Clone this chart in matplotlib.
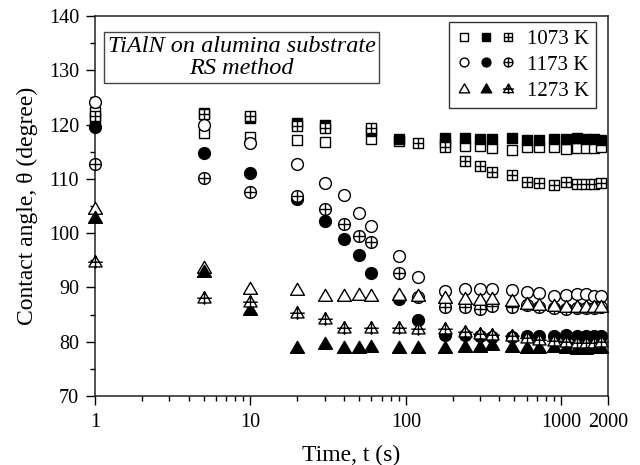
import numpy as np
import matplotlib
matplotlib.use("Agg")
import matplotlib.pyplot as plt
from matplotlib.path import Path
from matplotlib.legend_handler import HandlerTuple

# time points (s)
t_all = [1, 5, 10, 20, 30, 40, 50, 60, 90, 120, 180, 240, 300, 360, 480,
         600, 720, 900, 1080, 1260, 1440, 1620, 1800]
nan = np.nan

# 1073 K
k1073_open = [122.3, 118.5, 117.8, 117.2, 116.7, nan, nan, 117.4, 117.0, nan, 116.6, 116.0,
              116.0, 115.7, 115.4, 115.8, 115.8, 115.8, 115.5, 115.6, 115.7, 115.6, 115.8]
k1073_fill = [121.0, 122.1, 121.2, 120.3, 119.9, nan, nan, 118.8, 117.4, nan, 117.6, 117.5,
              117.3, 117.3, 117.5, 117.2, 117.2, 117.3, 117.3, 117.5, 117.4, 117.4, 117.2]
k1073_cross = [121.6, 122.0, 121.5, 119.7, 119.4, nan, nan, 119.3, nan, 116.6, 115.8, 113.3,
               112.4, 111.3, 110.7, 109.5, 109.2, 108.9, 109.4, 109.1, 109.0, 109.1, 109.2]

# 1173 K
k1173_open = [124.2, 119.9, 116.6, 112.8, 109.2, 107.0, 103.8, 101.3, 95.8, 92.0, 89.4, 89.7,
              89.7, 89.7, 89.5, 89.2, 89.0, 88.5, 88.6, 88.7, 88.7, 88.4, 88.4]
k1173_fill = [119.6, 114.8, 111.0, 106.2, 102.3, 99.0, 96.0, 92.7, 87.9, 84.0, 81.2, 81.3,
              81.0, 80.9, 80.9, 81.0, 81.0, 81.1, 81.2, 81.0, 81.1, 81.0, 81.0]
k1173_cross = [112.8, 110.2, 107.6, 106.8, 104.4, 101.7, 99.5, 98.4, 92.7, 88.3, 86.4, 86.4,
               86.0, 86.5, 86.4, 86.7, 86.4, 86.3, 86.1, 86.2, 86.3, 86.3, 86.4]

# 1273 K
k1273_open = [104.6, 93.7, 89.9, 89.7, 88.6, 88.6, 88.8, 88.6, 88.7, 88.6, 88.2, 88.0,
              87.9, 88.0, 87.6, 87.1, 87.0, 86.8, 86.6, 86.5, 86.5, 86.5, 86.6]
k1273_fill = [103.0, 93.1, 86.0, 79.0, 79.8, 79.0, 79.0, 79.2, 79.0, 79.0, 79.0, 79.2,
              79.3, 79.5, 79.3, 79.0, 79.0, 79.3, 79.0, 78.9, 78.9, 79.0, 79.0]
k1273_cross = [94.8, 88.2, 87.5, 85.5, 84.4, 82.7, nan, 82.7, 82.7, 82.6, 82.6, 82.0,
               81.6, 81.5, 81.2, 80.8, 80.5, 80.3, 80.1, 80.0, 80.0, 80.0, 80.1]

labels = ["1073 K", "1173 K", "1273 K"]

plt.rcParams['font.family'] = ['Liberation Serif', 'DejaVu Serif']


def with_cross(verts, codes, extra):
    v = list(verts)
    c = list(codes)
    for (a, b) in extra:
        v += [a, b]
        c += [Path.MOVETO, Path.LINETO]
    return Path(v, c)


sq = [(-1, -1), (1, -1), (1, 1), (-1, 1), (-1, -1)]
sq_codes = [Path.MOVETO, Path.LINETO, Path.LINETO, Path.LINETO, Path.CLOSEPOLY]
sq_plus = with_cross(sq, sq_codes, [((0, -1), (0, 1)), ((-1, 0), (1, 0))])

circ = Path.unit_circle()
circ_plus = with_cross(circ.vertices, circ.codes, [((0, -1), (0, 1)), ((-1, 0), (1, 0))])

tri = [(0, 0.8), (-0.9, -0.75), (0.9, -0.75), (0, 0.8)]
tri_codes = [Path.MOVETO, Path.LINETO, Path.LINETO, Path.CLOSEPOLY]
tri_path = Path(tri, tri_codes)
tri_plus = with_cross(tri, tri_codes, [((0, 0.8), (0, -1.0)), ((-1.0, -0.1), (1.0, -0.1))])

fig = plt.figure(figsize=(6.4, 4.65), dpi=100)
ax = fig.add_axes([95 / 640, 1 - 396 / 465, 513 / 640, 380 / 465])

mew = 1.0
series = [
    (k1073_open, 's', 7, 'white'), (k1073_fill, 's', 7, 'black'), (k1073_cross, sq_plus, 7, 'white'),
    (k1173_open, 'o', 8.5, 'white'), (k1173_fill, 'o', 8.5, 'black'), (k1173_cross, circ_plus, 8.5, 'white'),
    (k1273_open, tri_path, 10, 'white'), (k1273_fill, tri_path, 10, 'black'), (k1273_cross, tri_plus, 10.5, 'white'),
]
handles = []
for vals, m, ms, fc in series:
    h, = ax.plot(t_all, vals, linestyle='none', marker=m, markersize=ms,
                 markerfacecolor=fc, markeredgecolor='black', markeredgewidth=mew,
                 clip_on=False, zorder=3)
    handles.append(h)

ax.set_xscale('log')
ax.set_xlim(1, 2000)
ax.set_ylim(70, 140)
ax.set_xticks([1, 10, 100, 1000, 2000])
ax.set_xticklabels(['1', '10', '100', '1000', '2000'])
minor_x = [m * 10 ** d for d in range(0, 4) for m in range(2, 10) if m * 10 ** d < 2000]
ax.set_xticks(minor_x, minor=True)
ax.xaxis.set_minor_formatter(plt.NullFormatter())
ax.set_yticks(np.arange(70, 141, 10))
ax.set_yticks(np.arange(75, 140, 10), minor=True)

ax.tick_params(which='major', direction='out', length=6.5, width=1.0, labelsize=14.5)
ax.tick_params(axis='y', which='major', pad=5)
ax.tick_params(axis='x', which='major', pad=6)
ax.tick_params(which='minor', direction='out', length=3.5, width=1.0)
ax.tick_params(top=False, right=False, which='both')
for s in ax.spines.values():
    s.set_linewidth(1.1)
    s.set_color('#222222')

ax.set_xlabel('Time, t (s)', fontsize=17, labelpad=9)
ax.set_ylabel('Contact angle, θ (degree)', fontsize=17, labelpad=8)

ax.text(0.2855, 0.891, 'TiAlN on alumina substrate\nRS method', transform=ax.transAxes,
        ha='center', va='center', fontsize=17.5, style='italic', linespacing=1.1,
        bbox=dict(boxstyle='square,pad=0.15', fc='white', ec='#444444', lw=1.0), zorder=5)

leg_handles = [tuple(handles[0:3]), tuple(handles[3:6]), tuple(handles[6:9])]
leg = ax.legend(leg_handles, labels, handler_map={tuple: HandlerTuple(ndivide=None, pad=0.3)},
                loc='upper right', bbox_to_anchor=(0.977, 0.984), borderaxespad=0,
                fontsize=15, handlelength=2.9, handletextpad=0.5, labelspacing=0.3,
                borderpad=0.35, fancybox=False, edgecolor='#333333', framealpha=1, markerscale=0.75)
leg.get_frame().set_linewidth(1.0)
leg.set_zorder(6)

fig.savefig('out.png', dpi=100)
